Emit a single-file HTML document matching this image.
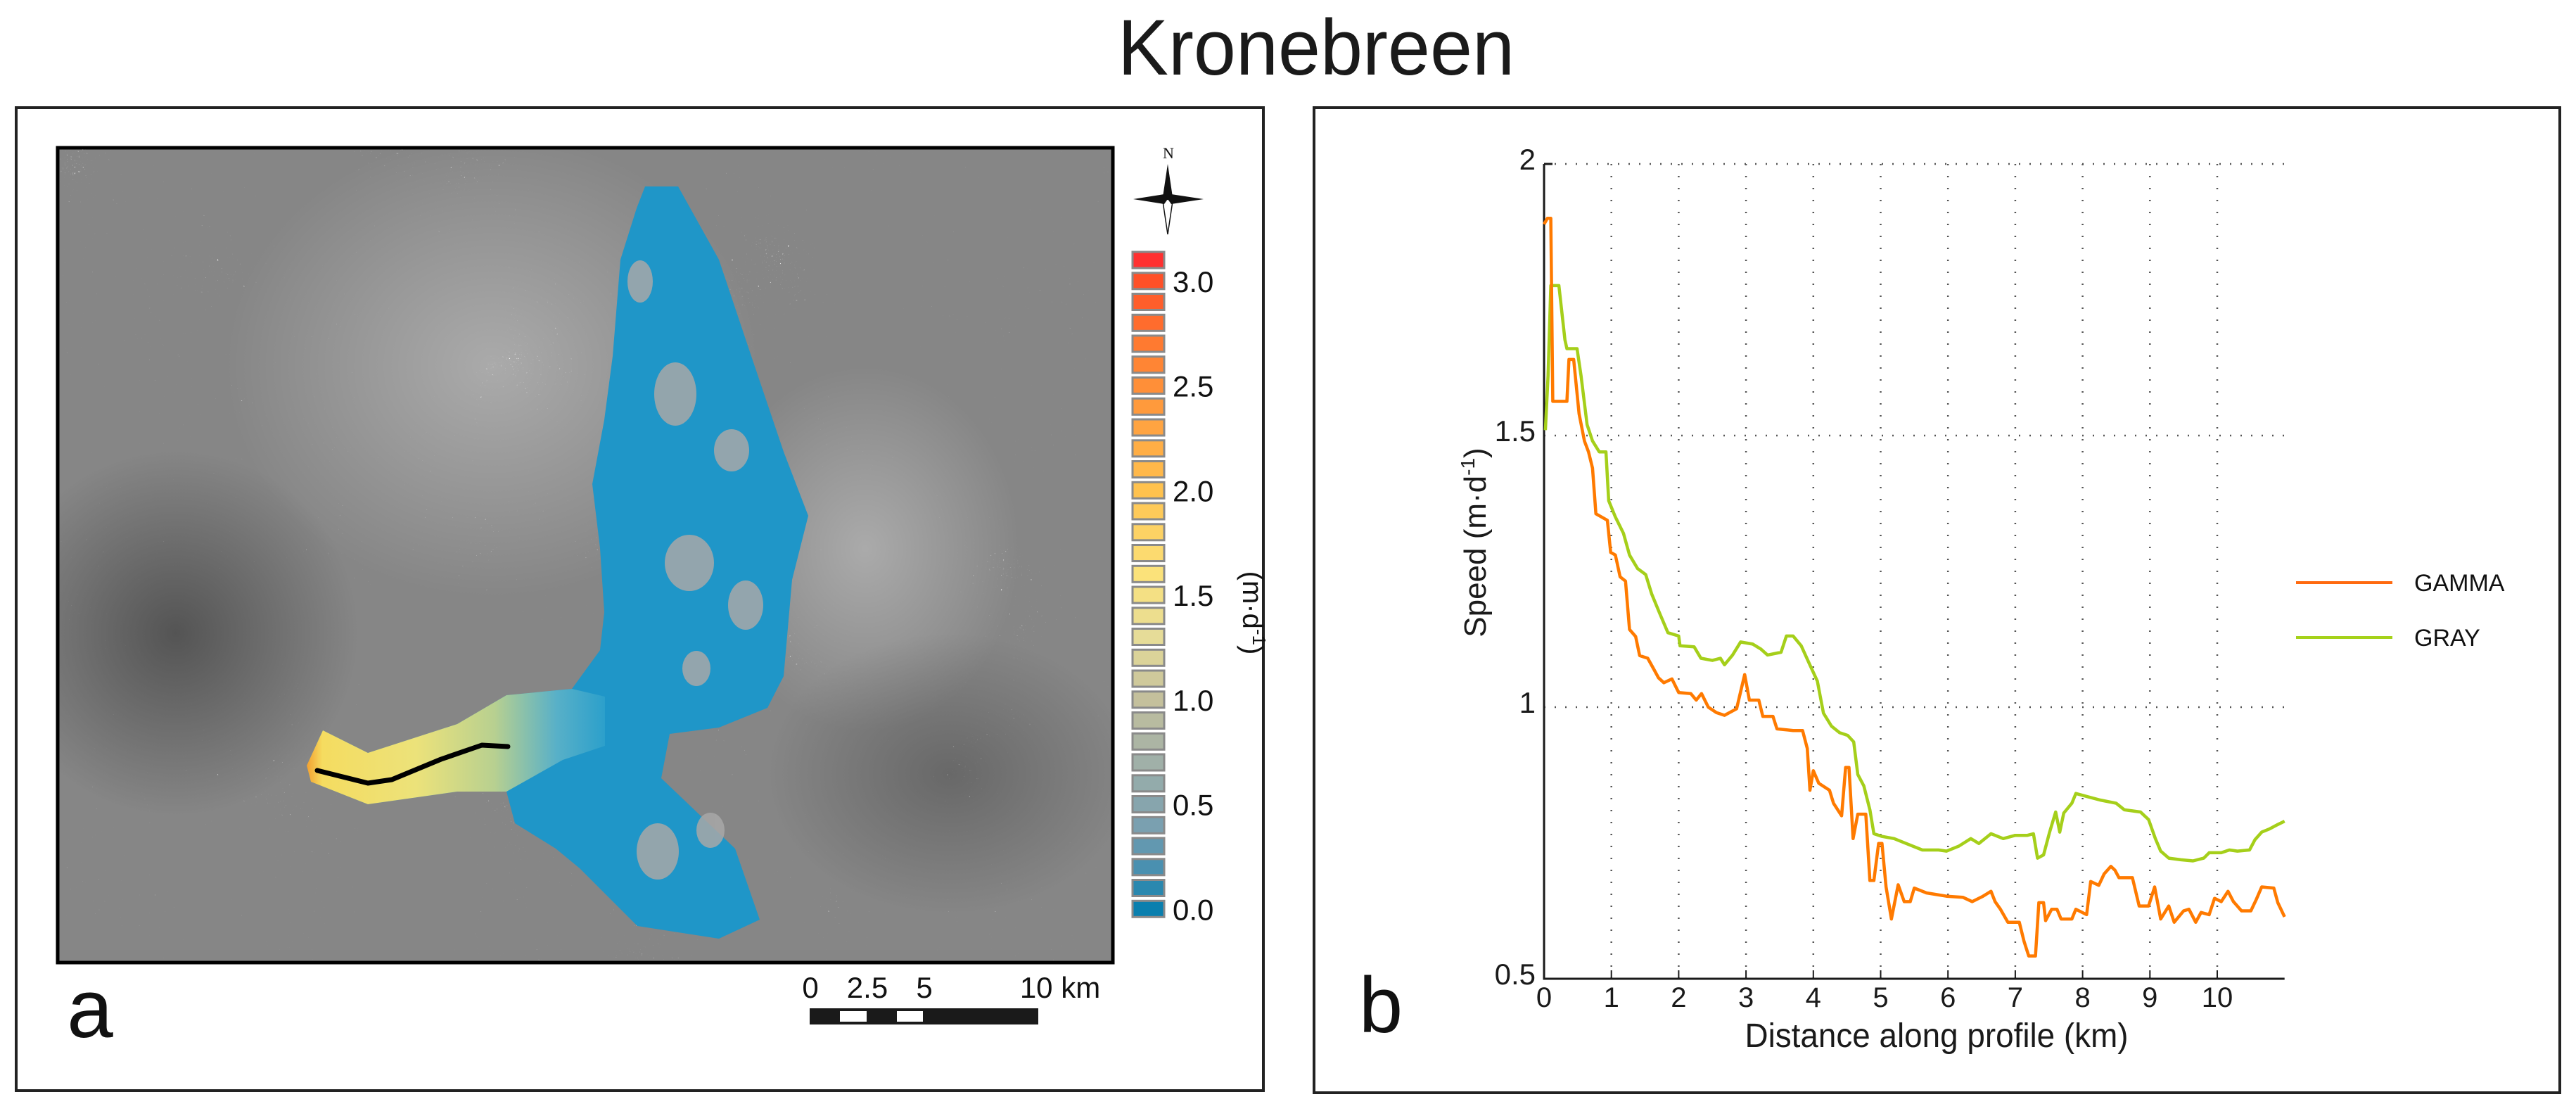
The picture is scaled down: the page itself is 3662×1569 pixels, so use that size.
<!DOCTYPE html>
<html><head><meta charset="utf-8">
<style>
html,body{margin:0;padding:0;background:#fff;}
svg{display:block;font-family:"Liberation Sans",sans-serif;}
</style></head>
<body>
<svg id="root" width="3662" height="1569" viewBox="0 0 3662 1569" xmlns="http://www.w3.org/2000/svg">
<defs>
<filter id="sar" x="0" y="0" width="1" height="1" filterUnits="objectBoundingBox">
 <feTurbulence type="fractalNoise" baseFrequency="0.006" numOctaves="4" seed="3" result="lo"/>
 <feTurbulence type="turbulence" baseFrequency="0.35" numOctaves="2" seed="9" result="hi"/>
 <feComposite in="lo" in2="hi" operator="arithmetic" k1="0" k2="1.6" k3="2.2" k4="-1.2" result="mix"/>
 <feColorMatrix in="mix" type="matrix" values="1 0 0 0 0  1 0 0 0 0  1 0 0 0 0  0 0 0 0 1" result="g"/>
 <feComponentTransfer in="g">
  <feFuncR type="table" tableValues="0.24 0.26 0.35 0.65 0.95 1 1"/>
  <feFuncG type="table" tableValues="0.24 0.26 0.35 0.65 0.95 1 1"/>
  <feFuncB type="table" tableValues="0.24 0.26 0.35 0.65 0.95 1 1"/>
 </feComponentTransfer>
</filter>
<clipPath id="mapclip"><rect x="82" y="210" width="1500" height="1158"/></clipPath>
<linearGradient id="tongue" x1="436" y1="0" x2="880" y2="0" gradientUnits="userSpaceOnUse">
 <stop offset="0" stop-color="#f4a030"/>
 <stop offset="0.05" stop-color="#f5dc60"/>
 <stop offset="0.35" stop-color="#ece27a"/>
 <stop offset="0.6" stop-color="#b8d090"/>
 <stop offset="0.8" stop-color="#58b0c8"/>
 <stop offset="1" stop-color="#1f9bcc"/>
</linearGradient>
<radialGradient id="bright" cx="0.5" cy="0.5" r="0.5"><stop offset="0" stop-color="#fff" stop-opacity="0.3"/><stop offset="1" stop-color="#fff" stop-opacity="0"/></radialGradient>
<radialGradient id="dark" cx="0.5" cy="0.5" r="0.5"><stop offset="0" stop-color="#333" stop-opacity="0.6"/><stop offset="1" stop-color="#333" stop-opacity="0"/></radialGradient>
</defs>

<text x="1871" y="106" font-size="112" text-anchor="middle" textLength="564" lengthAdjust="spacingAndGlyphs" fill="#1a1a1a">Kronebreen</text>

<g>
 <rect x="23" y="153" width="1773" height="1397" fill="none" stroke="#222" stroke-width="4"/>
 <g clip-path="url(#mapclip)">
  <rect x="82" y="210" width="1500" height="1158" fill="#777" filter="url(#sar)"/>
  <ellipse cx="700" cy="520" rx="380" ry="330" fill="url(#bright)"/>
  <ellipse cx="1230" cy="780" rx="220" ry="260" fill="url(#bright)"/>
  <ellipse cx="250" cy="900" rx="260" ry="260" fill="url(#dark)"/>
  <ellipse cx="1350" cy="1100" rx="260" ry="200" fill="url(#dark)" opacity="0.6"/>
  <polygon fill="#1f96c8" points="917,265 964,265 1022,369 1068,506 1114,642 1149,733 1126,824 1114,961 1091,1006 1022,1034 952,1043 940,1106 1045,1206 1080,1307 1022,1334 906,1316 824,1234 790,1206 732,1170 720,1125 650,1125 523,1143 442,1111 436,1088 459,1038 523,1070 650,1029 720,988 813,979 853,924 859,870 853,779 842,688 859,597 871,506 882,369 905,296"/>
  <polygon fill="url(#tongue)" points="442,1111 436,1088 459,1038 523,1070 650,1029 720,988 813,979 860,990 860,1060 800,1080 720,1125 650,1125 523,1143"/>
  <g fill="#a8a8a8" opacity="0.85">
   <ellipse cx="960" cy="560" rx="30" ry="45"/><ellipse cx="1040" cy="640" rx="25" ry="30"/>
   <ellipse cx="980" cy="800" rx="35" ry="40"/><ellipse cx="1060" cy="860" rx="25" ry="35"/>
   <ellipse cx="935" cy="1210" rx="30" ry="40"/><ellipse cx="990" cy="950" rx="20" ry="25"/>
   <ellipse cx="910" cy="400" rx="18" ry="30"/><ellipse cx="1010" cy="1180" rx="20" ry="25"/>
  </g>
  <polyline points="451,1095 523,1113 557,1108 627,1079 685,1059 722,1061" fill="none" stroke="#000" stroke-width="7" stroke-linecap="round" stroke-linejoin="round"/>
 </g>
 <rect x="82" y="210" width="1500" height="1158" fill="none" stroke="#000" stroke-width="5"/>
 <g>
  <text x="1661" y="225" font-size="22" font-family="Liberation Serif,serif" text-anchor="middle" fill="#111">N</text>
  <path d="M1660,233 L1667,280 L1660,283 L1653,280 Z" fill="#111"/>
  <path d="M1660,333 L1667,286 L1660,283 L1653,286 Z" fill="#fff" stroke="#111" stroke-width="1.5"/>
  <path d="M1611,283 L1655,276 L1660,283 L1655,290 Z" fill="#111"/>
  <path d="M1711,283 L1665,276 L1660,283 L1665,290 Z" fill="#111"/>
 </g>
 <g id="cbar"></g>
 <text x="1767" y="871" font-size="40" text-anchor="middle" transform="rotate(90 1767 871)" fill="#111">(m·d<tspan font-size="26" dy="-14">-1</tspan><tspan dy="14">)</tspan></text>
 <g>
  <rect x="1151" y="1433" width="325" height="23" fill="#1a1a1a"/>
  <rect x="1194" y="1437" width="38" height="15" fill="#fff"/>
  <rect x="1275" y="1437" width="37" height="15" fill="#fff"/>
  <g font-size="42" fill="#111" text-anchor="middle">
   <text x="1152" y="1418">0</text><text x="1233" y="1418">2.5</text><text x="1314" y="1418">5</text><text x="1507" y="1418">10 km</text>
  </g>
 </g>
 <text x="128" y="1474" font-size="118" text-anchor="middle" fill="#111">a</text>
</g>

<g>
 <rect x="1868" y="153" width="1771" height="1400" fill="none" stroke="#222" stroke-width="4"/>
 <g id="plot"></g>
 <text x="1963" y="1467" font-size="112" text-anchor="middle" fill="#111">b</text>
 <text x="2753" y="1488" font-size="48" text-anchor="middle" textLength="545" lengthAdjust="spacingAndGlyphs" fill="#1a1a1a">Distance along profile (km)</text>
 <text x="2112" y="771" font-size="44" text-anchor="middle" transform="rotate(-90 2112 771)" fill="#1a1a1a">Speed (m·d<tspan font-size="28" dy="-16">-1</tspan><tspan dy="16">)</tspan></text>
 <g>
  <line x1="3264" y1="828" x2="3401" y2="828" stroke="#ff6a10" stroke-width="4"/>
  <text x="3432" y="840" font-size="34" fill="#111">GAMMA</text>
  <line x1="3264" y1="906" x2="3401" y2="906" stroke="#a5d21a" stroke-width="4"/>
  <text x="3432" y="918" font-size="34" fill="#111">GRAY</text>
 </g>
</g>
</svg>

<script>
const NS = "http://www.w3.org/2000/svg";
const xTicks = [0,1,2,3,4,5,6,7,8,9,10];
const yTicks = [0.5,1,1.5,2];
const yTickLabels = ["0.5","1","1.5","2"];
const gammaKm = [0,0.05,0.1,0.13,0.34,0.37,0.44,0.52,0.6,0.66,0.72,0.77,0.94,0.99,1.06,1.13,1.21,1.27,1.36,1.42,1.54,1.63,1.7,1.78,1.9,2.0,2.18,2.26,2.34,2.44,2.56,2.68,2.86,2.98,3.05,3.19,3.25,3.4,3.46,3.7,3.84,3.91,3.95,4.0,4.08,4.24,4.3,4.42,4.48,4.53,4.59,4.66,4.78,4.84,4.9,4.97,5.02,5.08,5.16,5.26,5.35,5.44,5.5,5.68,5.98,6.22,6.36,6.52,6.64,6.7,6.78,6.89,7.06,7.13,7.2,7.3,7.35,7.42,7.45,7.54,7.62,7.68,7.84,7.9,8.06,8.12,8.24,8.32,8.42,8.48,8.54,8.74,8.84,8.98,9.07,9.16,9.28,9.36,9.5,9.58,9.68,9.76,9.88,9.96,10.06,10.16,10.24,10.36,10.5,10.58,10.66,10.84,10.9,11.0];
const gammaSpeed = [1.889,1.9,1.9,1.563,1.563,1.64,1.64,1.54,1.49,1.47,1.44,1.356,1.344,1.285,1.28,1.24,1.232,1.143,1.13,1.095,1.09,1.07,1.054,1.045,1.052,1.027,1.025,1.013,1.025,1.0,0.99,0.985,0.997,1.06,1.013,1.013,0.983,0.983,0.96,0.957,0.957,0.924,0.847,0.883,0.86,0.847,0.823,0.8,0.889,0.889,0.758,0.803,0.803,0.681,0.681,0.749,0.749,0.669,0.61,0.673,0.642,0.642,0.667,0.658,0.652,0.65,0.642,0.652,0.661,0.642,0.628,0.604,0.604,0.569,0.542,0.542,0.64,0.64,0.607,0.628,0.628,0.61,0.61,0.628,0.618,0.679,0.672,0.693,0.707,0.7,0.686,0.686,0.634,0.634,0.669,0.61,0.634,0.604,0.625,0.628,0.604,0.622,0.618,0.648,0.642,0.661,0.642,0.625,0.625,0.646,0.669,0.667,0.64,0.614];
const grayKm = [0.02,0.06,0.1,0.22,0.31,0.34,0.49,0.55,0.64,0.72,0.82,0.92,0.96,1.06,1.18,1.27,1.39,1.51,1.6,1.72,1.84,2.0,2.02,2.23,2.33,2.5,2.62,2.68,2.8,2.92,3.1,3.22,3.32,3.52,3.6,3.7,3.82,3.94,4.06,4.15,4.27,4.39,4.51,4.6,4.66,4.75,4.84,4.9,5.02,5.2,5.38,5.62,5.86,5.98,6.16,6.34,6.46,6.64,6.82,7.0,7.18,7.27,7.33,7.42,7.51,7.6,7.66,7.72,7.84,7.9,8.08,8.26,8.5,8.62,8.86,8.98,9.08,9.16,9.28,9.46,9.64,9.8,9.88,10.06,10.18,10.3,10.48,10.56,10.66,10.78,10.9,11.0];
const graySpeed = [1.51,1.61,1.776,1.776,1.676,1.66,1.66,1.61,1.52,1.49,1.47,1.47,1.38,1.35,1.32,1.28,1.255,1.244,1.208,1.172,1.137,1.131,1.113,1.111,1.09,1.086,1.09,1.078,1.096,1.12,1.116,1.107,1.096,1.101,1.131,1.131,1.113,1.08,1.048,0.989,0.965,0.953,0.948,0.936,0.876,0.855,0.811,0.767,0.762,0.758,0.749,0.737,0.737,0.735,0.744,0.758,0.749,0.767,0.758,0.764,0.764,0.767,0.722,0.728,0.77,0.807,0.77,0.805,0.823,0.841,0.835,0.829,0.823,0.811,0.807,0.793,0.758,0.735,0.722,0.719,0.717,0.722,0.732,0.732,0.737,0.735,0.737,0.756,0.77,0.776,0.784,0.79];
const cbarValues = [3.1,3.0,2.9,2.8,2.7,2.6,2.5,2.4,2.3,2.2,2.1,2.0,1.9,1.8,1.7,1.6,1.5,1.4,1.3,1.2,1.1,1.0,0.9,0.8,0.7,0.6,0.5,0.4,0.3,0.2,0.1,0.0];
const cbarLabels = ["3.0","2.5","2.0","1.5","1.0","0.5","0.0"];

const X0=2195, XPX=95.7, XMAX=11.0;
const Y0=233, YPX=772;
function xs(k){return X0 + k*XPX;}
function ys(v){return Y0 + (2-v)*YPX;}

const plot = document.getElementById('plot');
function mk(tag, attrs){const e=document.createElementNS(NS,tag); for(const k in attrs) e.setAttribute(k, attrs[k]); plot.appendChild(e); return e;}

xTicks.forEach(function(t){
  if(t===0) return;
  const g = mk('line',{x1:xs(t),x2:xs(t),y1:ys(2),y2:ys(0.5),stroke:'#555','stroke-width':2.5,'stroke-dasharray':'2 15'});
  
  
});
yTicks.forEach(function(t){
  if(t===0.5) return;
  const g = mk('line',{x1:xs(0),x2:xs(XMAX),y1:ys(t),y2:ys(t),stroke:'#555','stroke-width':2.5,'stroke-dasharray':'2 13'});
  
  
});
const ax = mk('path',{d:'M'+xs(0)+','+ys(2)+' L'+xs(0)+','+ys(0.5)+' L'+xs(XMAX)+','+ys(0.5),fill:'none',stroke:'#1a1a1a','stroke-width':3});


const tk0 = mk('line',{x1:xs(0),x2:xs(0)+12,y1:ys(2),y2:ys(2),stroke:'#1a1a1a','stroke-width':3});


xTicks.forEach(function(t){
  const tk = mk('line',{x1:xs(t),x2:xs(t),y1:ys(0.5),y2:ys(0.5)-12,stroke:'#1a1a1a','stroke-width':2});
  
  
  const lb = mk('text',{x:xs(t),y:ys(0.5)+40,'font-size':40,'text-anchor':'middle',fill:'#1a1a1a'});
  lb.textContent = String(t);
  
  
});
yTicks.forEach(function(t,i){
  const lb = mk('text',{x:xs(0)-12,y:ys(t)+8,'font-size':42,'text-anchor':'end',fill:'#1a1a1a'});
  lb.textContent = yTickLabels[i];
  
  
});
function series(km, sp, color, name){
  const pts = km.map(function(k,i){return xs(k).toFixed(1)+','+ys(sp[i]).toFixed(1);}).join(' ');
  const pl = mk('polyline',{points:pts,fill:'none',stroke:color,'stroke-width':4.5,'stroke-linejoin':'round'});
  
  
}
series(grayKm, graySpeed, '#a5cf1a', 'gray-series-line');
series(gammaKm, gammaSpeed, '#ff7a00', 'gamma-series-line');

const stopsV = [3.1,3.0,2.7,2.4,2.0,1.6,1.3,1.0,0.7,0.4,0.2,0.0];
const stopsC = ['#ff3030','#ff5028','#ff7a30','#ff9a3c','#ffc24e','#fbe27a','#e6dc98','#c4c09c','#a0b0a8','#7aa0b0','#4a90b0','#0a7fae'];
function hex(c){return [parseInt(c.substr(1,2),16),parseInt(c.substr(3,2),16),parseInt(c.substr(5,2),16)];}
function cmap(v){
  for(let i=0;i<stopsV.length-1;i++){
    if(v<=stopsV[i] && v>=stopsV[i+1]){
      const t=(stopsV[i]-v)/(stopsV[i]-stopsV[i+1]);
      const a=hex(stopsC[i]), b=hex(stopsC[i+1]);
      return 'rgb('+a.map(function(x,j){return Math.round(x+(b[j]-x)*t);}).join(',')+')';
    }
  }
  return stopsC[stopsC.length-1];
}
const cb = document.getElementById('cbar');
cbarValues.forEach(function(v,i){
  const r = document.createElementNS(NS,'rect');
  r.setAttribute('x',1610); r.setAttribute('y',(358+i*29.75).toFixed(1));
  r.setAttribute('width',45); r.setAttribute('height',23);
  r.setAttribute('fill',cmap(v)); r.setAttribute('stroke','#8a8a8a'); r.setAttribute('stroke-width',3);
  
  
  cb.appendChild(r);
});
cbarLabels.forEach(function(s,i){
  const idx = 1 + i*5;
  const t = document.createElementNS(NS,'text');
  t.setAttribute('x',1667); t.setAttribute('y',(358+idx*29.75+27).toFixed(1));
  t.setAttribute('font-size',42); t.setAttribute('fill','#111');
  t.textContent = s;
  
  
  cb.appendChild(t);
});
</script>
</body></html>
